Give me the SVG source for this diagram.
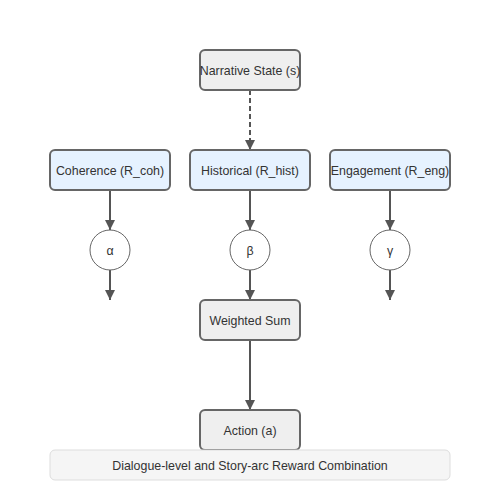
<svg xmlns="http://www.w3.org/2000/svg" width="500" height="500" viewBox="0 0 500 500">
<style>
.box{stroke:#666;stroke-width:2}
.gray{fill:#efefef}
.blue{fill:#e6f2ff}
.circ{fill:#fff;stroke:#666;stroke-width:1}
.lbl{font-family:"Liberation Sans",Arial,sans-serif;font-size:12.4px;fill:#333;text-anchor:middle;dominant-baseline:central}
.edge{stroke:#555;stroke-width:2;fill:none}
</style>
<defs>
<marker id="ah" viewBox="0 0 10 10" refX="10" refY="5" markerWidth="5" markerHeight="5" orient="auto" markerUnits="strokeWidth">
<path d="M0,0 L10,5 L0,10 z" fill="#555"/>
</marker>
</defs>
<rect width="500" height="500" fill="#fff"/>
<g id="edges">
<line class="edge" x1="250" y1="90" x2="250" y2="150" stroke-dasharray="5,3" marker-end="url(#ah)"/>
<line class="edge" x1="110" y1="190" x2="110" y2="230" marker-end="url(#ah)"/>
<line class="edge" x1="250" y1="190" x2="250" y2="230" marker-end="url(#ah)"/>
<line class="edge" x1="390" y1="190" x2="390" y2="230" marker-end="url(#ah)"/>
<line class="edge" x1="110" y1="270" x2="110" y2="300" marker-end="url(#ah)"/>
<line class="edge" x1="250" y1="270" x2="250" y2="300" marker-end="url(#ah)"/>
<line class="edge" x1="390" y1="270" x2="390" y2="300" marker-end="url(#ah)"/>
<line class="edge" x1="250" y1="340" x2="250" y2="410" marker-end="url(#ah)"/>
</g>
<g id="state">
<rect class="box gray" x="200" y="50" width="100" height="40" rx="5"/>
<text class="lbl" x="250" y="71">Narrative State (s)</text>
</g>
<g id="coh">
<rect class="box blue" x="50" y="150" width="120" height="40" rx="5"/>
<text class="lbl" x="110" y="171">Coherence (R_coh)</text>
</g>
<g id="hist">
<rect class="box blue" x="190" y="150" width="120" height="40" rx="5"/>
<text class="lbl" x="250" y="171">Historical (R_hist)</text>
</g>
<g id="eng">
<rect class="box blue" x="330" y="150" width="120" height="40" rx="5"/>
<text class="lbl" x="390" y="171">Engagement (R_eng)</text>
</g>
<g id="alpha">
<circle class="circ" cx="110" cy="250" r="20"/>
<text class="lbl" x="110" y="251">α</text>
</g>
<g id="beta">
<circle class="circ" cx="250" cy="250" r="20"/>
<text class="lbl" x="250" y="251">β</text>
</g>
<g id="gamma">
<circle class="circ" cx="390" cy="250" r="20"/>
<text class="lbl" x="390" y="251">γ</text>
</g>
<g id="sum">
<rect class="box gray" x="200" y="300" width="100" height="40" rx="5"/>
<text class="lbl" x="250" y="321">Weighted Sum</text>
</g>
<g id="action">
<rect class="box gray" x="200" y="410" width="100" height="40" rx="5"/>
<text class="lbl" x="250" y="431">Action (a)</text>
</g>
<g id="caption">
<rect x="50" y="450" width="400" height="30" rx="5" fill="#f5f5f5" stroke="#ddd" stroke-width="1"/>
<text class="lbl" x="250" y="466">Dialogue-level and Story-arc Reward Combination</text>
</g>
</svg>
